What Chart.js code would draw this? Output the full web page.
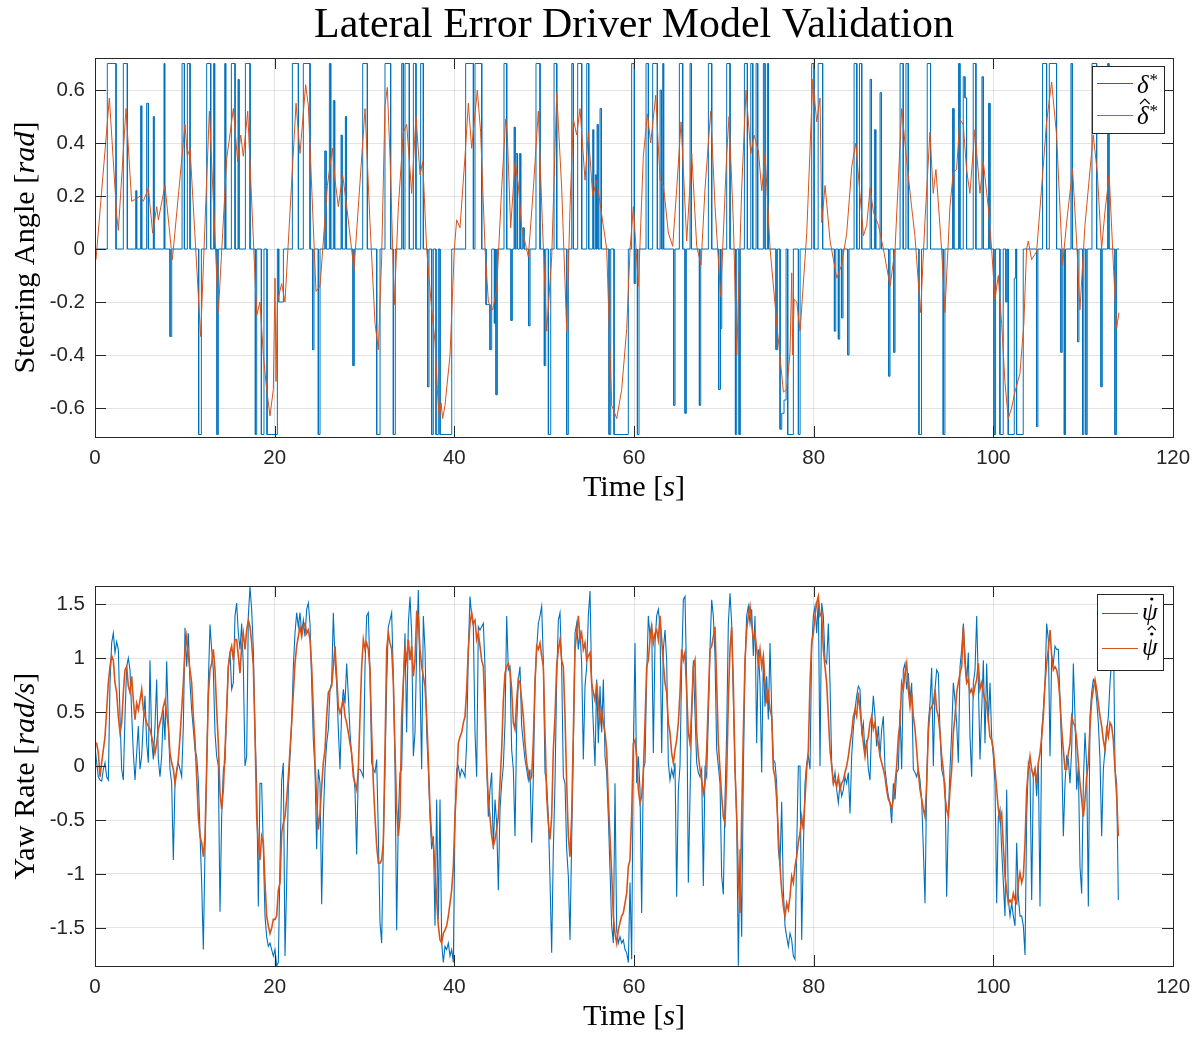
<!DOCTYPE html>
<html><head><meta charset="utf-8">
<script src="https://cdn.jsdelivr.net/npm/chart.js@4/dist/chart.umd.min.js"></script>
<style>
html,body{margin:0;padding:0;background:#fff;width:1202px;height:1037px;overflow:hidden}
canvas{position:absolute;left:0}
</style></head>
<body>
<canvas id="c1" width="1202" height="520" style="top:0px"></canvas>
<canvas id="c2" width="1202" height="517" style="top:520px"></canvas>
<script>
// ---------- tick labels ----------
const timeTicks = [0, 20, 40, 60, 80, 100, 120];
const timeTickLabels = ['0', '20', '40', '60', '80', '100', '120'];
const steerTicks = [-0.6, -0.4, -0.2, 0, 0.2, 0.4, 0.6];
const steerTickLabels = ['-0.6', '-0.4', '-0.2', '0', '0.2', '0.4', '0.6'];
const yawTicks = [-1.5, -1, -0.5, 0, 0.5, 1, 1.5];
const yawTickLabels = ['-1.5', '-1', '-0.5', '0', '0.5', '1', '1.5'];

// ---------- steering reference delta* (saturated pulses: start, end, value) ----------
const steerPulseStart = [1.37,3.15,4.53,5.08,5.75,6.49,7.68,8.35,9.69,10.28,11.54,12.43,13.21,13.58,14.44,15.18,15.92,16.74,17.85,18.52,19.15,20.45,21.97,23.19,24.23,24.86,25.57,26.09,26.53,27.39,27.87,28.72,
29.80,31.36,32.28,33.21,34.14,34.51,35.44,36.25,37.03,37.48,37.96,38.41,41.26,42.30,43.53,43.97,44.46,44.64,45.53,46.31,46.65,46.87,47.24,47.61,48.28,49.09,50.02,50.47,51.10,52.51,53.07,53.73,54.74,55.40,55.70,55.89,56.22,57.22,57.78,
59.74,60.04,60.38,61.34,62.08,62.90,63.20,64.42,65.05,65.68,66.24,67.28,68.28,69.43,69.65,70.32,71.29,71.70,72.29,73.00,73.59,74.40,74.85,75.81,76.26,76.45,76.70,77.11,78.30,79.78,80.50,82.31,82.75,83.12,83.79,84.50,85.10,86.28,86.76,87.39,88.36,88.92,
89.62,90.27,91.72,92.64,94.42,95.46,96.13,96.65,96.84,97.76,98.73,99.47,100.07,100.73,101.40,101.66,102.33,102.59,104.82,105.48,106.23,107.52,107.90,108.64,109.38,109.94,110.30,110.98,111.98,112.72,113.54];
const steerPulseEnd = [2.34,3.60,4.64,5.20,5.94,6.57,7.76,8.54,9.95,10.58,11.84,12.88,13.32,13.73,14.55,15.59,16.03,17.26,18.00,18.81,20.30,20.97,22.64,23.94,24.38,25.05,25.72,26.24,26.68,27.50,27.98,28.87,
30.32,31.73,32.91,33.43,34.32,34.99,35.73,36.55,37.18,37.66,38.22,39.71,42.12,43.05,43.97,44.16,44.60,44.79,45.83,46.46,46.76,47.02,47.39,47.76,48.43,49.54,50.17,50.73,51.40,52.69,53.25,54.18,54.96,55.51,55.81,56.00,56.37,57.41,59.37,
60.04,60.19,60.56,61.60,62.60,63.05,63.30,64.57,65.42,65.83,66.39,67.43,68.65,69.58,69.77,70.69,71.43,71.84,72.62,73.22,73.77,74.59,74.96,75.96,76.45,76.70,76.93,77.74,78.49,80.05,81.00,82.46,82.90,83.27,83.94,84.80,85.35,86.43,86.91,87.54,88.50,89.06,
89.97,90.53,92.01,93.01,94.61,95.61,96.28,96.84,97.02,98.06,98.88,99.62,100.25,101.10,101.55,102.33,102.48,103.33,104.96,105.93,107.04,107.67,108.04,108.79,109.53,110.08,110.45,111.50,112.13,112.87,113.72];
const steerPulseValue = [0.7,0.7,0.22,0.54,0.55,0.5,0.7,-0.33,0.7,0.7,-0.7,0.7,0.7,-0.7,0.7,0.7,0.64,0.7,-0.7,-0.7,-0.7,-0.2,0.7,0.7,-0.38,-0.7,0.37,0.7,0.56,0.43,0.5,-0.44,
0.7,-0.7,0.7,-0.7,0.7,0.7,0.7,0.7,-0.52,-0.7,-0.7,-0.7,0.7,0.7,-0.21,-0.38,-0.28,-0.55,0.7,-0.27,0.46,0.36,0.36,0.08,-0.29,0.7,-0.44,-0.7,0.7,-0.7,0.7,0.7,0.7,0.45,0.28,0.47,0.53,-0.7,-0.7,
0.7,-0.13,-0.7,0.7,0.7,0.6,0.7,-0.59,0.7,-0.62,0.7,-0.59,0.7,-0.53,-0.3,0.7,-0.7,-0.7,0.7,0.7,0.7,0.7,0.7,-0.38,-0.68,-0.62,-0.57,-0.7,-0.7,0.7,0.7,-0.31,-0.34,-0.26,-0.4,0.7,0.7,0.64,0.45,0.59,-0.48,-0.39,
0.7,0.7,-0.7,0.7,-0.7,0.53,0.7,0.65,0.57,0.7,0.65,0.55,-0.7,-0.7,-0.2,-0.7,-0.11,-0.7,-0.67,0.7,0.7,-0.39,-0.7,0.7,-0.35,-0.7,-0.7,0.7,-0.52,0.7,-0.7];
const steerEndTime = 114.0;

// ---------- steering model estimate delta-hat* ----------
const steerModelTime = [0.11,1.60,2.41,2.60,3.45,4.08,4.64,5.01,5.38,5.94,6.42,6.87,7.05,7.79,8.61,10.02,10.28,10.58,11.76,12.73,13.73,14.66,15.40,15.88,16.22,16.51,17.00,18.00,18.37,18.74,19.11,19.48,19.85,20.04,20.15,20.30,20.78,21.15,22.38,22.82,23.45,23.75,24.60,25.05,25.87,26.42,26.72,27.09,27.57,28.02,28.83,
30.06,30.61,31.17,31.54,31.91,32.28,32.54,32.84,33.32,33.77,34.32,34.70,35.25,35.73,36.18,36.48,36.92,37.48,37.85,38.11,38.33,38.52,38.70,38.96,39.52,40.00,40.26,40.63,41.19,41.56,41.93,42.56,42.93,43.42,43.79,44.27,44.72,45.27,45.72,45.90,46.27,46.76,47.13,47.50,48.24,48.80,49.35,49.80,50.28,50.84,51.40,51.95,52.51,52.88,53.25,53.62,53.99,54.55,54.92,55.40,55.85,56.40,56.96,57.52,58.08,58.63,59.19,59.56,
59.93,60.49,61.04,61.49,61.86,62.42,62.90,63.27,63.83,64.31,64.76,65.24,65.87,66.43,66.98,67.46,67.91,68.54,69.02,69.65,70.32,70.58,71.06,71.44,71.99,72.47,73.00,73.36,73.85,74.22,74.59,75.15,75.89,76.63,77.00,77.37,77.56,77.67,77.82,78.12,78.49,79.23,79.90,80.34,80.71,80.90,81.27,81.83,82.20,82.57,83.12,83.68,84.24,84.68,85.17,85.54,85.91,86.28,86.65,87.21,87.76,88.51,89.06,89.80,
90.42,90.90,91.27,91.90,92.38,92.94,93.31,93.61,94.24,94.61,95.17,95.54,95.91,96.28,96.65,97.02,97.39,97.95,98.51,98.88,99.43,99.81,100.18,100.55,100.92,101.29,101.66,102.03,102.40,102.96,103.40,103.70,103.89,104.26,104.82,105.37,105.93,106.49,107.04,107.71,108.16,108.82,109.27,109.64,110.20,111.12,111.57,112.05,112.42,112.90,113.35,113.72,113.98];
const steerModelValue = [-0.04,0.57,0.13,0.07,0.53,0.18,0.19,0.20,0.18,0.23,0.06,0.16,0.11,0.24,-0.04,0.47,0.35,0.38,-0.33,0.52,-0.24,0.34,0.53,0.33,0.43,0.35,0.52,-0.25,-0.20,-0.40,-0.53,-0.63,-0.53,-0.11,-0.50,-0.20,-0.13,-0.20,0.55,0.36,0.62,0.54,-0.16,-0.14,0.24,0.38,0.26,0.16,0.28,0.16,-0.08,
0.53,0.10,-0.28,-0.38,-0.03,0.54,0.61,0.35,-0.21,0.16,0.44,0.47,0.21,0.50,0.28,0.33,0.00,-0.23,-0.35,-0.53,-0.64,-0.58,-0.64,-0.59,-0.40,0.00,0.11,0.08,0.35,0.55,0.38,0.60,0.44,0.00,-0.20,-0.23,-0.15,0.23,0.49,0.43,0.08,0.33,0.24,0.08,-0.03,0.23,0.52,0.10,-0.31,-0.03,0.59,0.23,-0.31,0.16,0.49,0.43,0.53,0.26,0.44,0.20,0.26,0.13,0.00,-0.59,-0.64,-0.53,-0.30,0.00,
0.16,-0.14,0.35,0.51,0.40,0.58,0.26,0.24,0.06,0.01,0.23,0.48,0.03,0.36,0.01,-0.06,0.23,0.52,0.16,-0.18,0.36,0.50,0.10,-0.40,0.23,0.60,0.36,0.43,0.37,0.22,0.36,0.00,-0.28,-0.54,-0.53,-0.39,-0.09,-0.40,-0.19,-0.20,-0.31,0.06,0.64,0.48,0.57,0.10,0.24,0.03,-0.04,-0.11,-0.06,0.06,0.31,0.40,0.20,0.05,0.09,0.23,0.14,0.09,0.00,-0.14,0.00,0.53,
0.31,0.16,0.05,-0.24,0.10,0.44,0.21,0.30,0.00,-0.24,0.16,0.29,0.30,0.49,0.47,0.30,0.21,0.45,0.21,0.33,0.16,0.00,-0.19,-0.10,-0.28,-0.50,-0.64,-0.60,-0.54,-0.47,-0.28,0.00,0.03,-0.04,-0.01,0.23,0.48,0.63,0.43,-0.06,0.10,0.30,0.03,-0.23,0.09,0.43,0.29,0.00,0.14,0.28,-0.05,-0.30,-0.24];

// ---------- yaw rate samples (uniform sample step, four segments) ----------
const yawStep = 0.18553;
const yawSegmentStart = [0, 159, 321, 483];
const yawMeasA = [0.18,0.03,-0.10,-0.13,-0.14,-0.03,0.03,-0.10,-0.13,0.77,1.14,1.23,1.05,1.15,1.08,0.46,-0.03,
-0.13,0.46,0.92,1.0,0.89,0.49,0.12,-0.13,0.12,0.37,-0.03,0.09,0.40,0.65,0.21,0.03,0.98,0.24,0.06,0.37,
0.80,0.06,-0.10,0.09,0.52,0.24,0.97,0.40,-0.03,-0.16,-0.87,-0.16,-0.03,0.03,-0.03,-0.10,0.37,1.28,0.92,1.23,
0.77,0.52,0.34,0.15,0.09,-0.13,-0.62,-1.08,-1.70,-0.77,-0.03,0.77,1.31,1.08,0.89,0.31,0.09,0.0,-1.35,-0.47,
-0.03,0.03,0.52,0.92,1.05,0.71,0.77,1.39,1.51,1.23,1.08,1.32,0.92,0.0,0.09,1.39,1.66,1.45,1.08,0.31,
-0.16,-1.30,-0.16,-0.16,-0.77,-1.39,-1.58,-1.67,-1.64,-1.70,-1.76,-1.70,-1.85,-1.82,-0.90,-0.13,0.03,-1.76,-1.08,-0.22,
0.09,0.40,0.92,1.23,1.42,1.29,1.42,1.23,1.35,1.20,1.45,1.51,1.32,0.77,0.24,-0.03,-0.77,-0.03,-0.16,-1.28,
-0.47,-0.03,0.21,0.34,0.71,0.77,1.42,0.98,0.77,0.34,-0.03,0.52,0.71,0.58,0.95,0.65,0.31,0.09,-0.03,-0.22,
-0.82,-0.03];
const yawMeasB = [-0.03,-0.06,-0.10,0.92,1.39,1.42,0.86,0.03,-0.03,-0.06,0.06,-0.62,-1.45,-1.64,-0.71,-0.03,0.77,1.29,1.35,1.42,
0.83,0.0,-1.52,-0.47,-0.06,-0.03,0.77,1.23,0.31,1.32,1.57,1.23,0.09,0.31,1.08,1.63,0.77,-0.03,1.39,1.08,
0.31,-0.03,-0.47,-0.77,-0.65,-1.48,-0.31,-1.42,-0.31,-1.64,-1.82,-1.67,-1.70,-1.64,-1.76,-1.70,-1.82,-0.47,-0.03,0.0,
-0.10,-0.03,-0.06,-0.10,0.21,1.08,1.57,1.39,1.29,0.31,-0.10,1.29,1.26,1.29,1.32,0.92,0.03,-0.47,-0.22,-0.06,
-0.77,-0.31,-0.53,-1.15,-0.40,-0.16,0.0,0.40,1.39,0.89,0.92,0.15,-0.03,-0.65,0.37,0.80,0.92,0.37,0.21,0.06,
-0.03,-0.13,-0.03,-0.71,-0.10,0.77,1.08,1.32,1.39,1.48,0.98,-0.06,-0.16,-0.47,-1.05,-1.73,-0.77,-0.16,0.80,1.35,
1.42,0.92,-0.10,-0.16,-0.77,-1.02,-1.61,-0.68,0.15,1.23,1.32,1.08,1.26,0.95,0.06,0.74,0.92,1.39,1.62,0.77,
0.37,0.0,0.80,0.21,0.74,0.31,0.80,0.09,-0.06,-0.47,-0.96,-1.48,-1.64,-0.16,-1.52,-1.64,-1.58,-1.64,-1.61,-1.70,
-1.73,-1.82];
const yawMeasC = [-1.08,-1.79,0.15,1.14,-0.16,0.09,-0.22,-1.36,-0.03,0.03,0.83,1.39,1.20,1.32,0.12,1.14,1.39,1.45,1.29,0.12,
1.08,1.26,0.98,0.03,-0.13,-0.03,-0.10,0.03,-1.21,-0.22,0.0,0.92,1.54,1.57,0.77,-1.08,-0.28,0.46,0.98,0.49,
0.03,-0.06,-0.10,-0.03,-1.11,-0.03,-0.10,0.46,1.08,1.54,1.39,1.02,0.15,0.0,-0.16,-1.02,-1.19,-0.31,0.31,1.32,
1.60,1.32,0.61,0.0,-0.47,-1.85,-0.77,-1.58,-0.06,0.92,1.39,1.48,1.32,1.45,1.02,1.39,0.21,1.08,0.77,-0.06,
1.02,0.55,0.83,0.43,1.14,0.52,0.06,0.03,-0.16,-0.77,-0.93,-0.33,-1.15,-1.48,-1.58,-1.67,-1.55,-1.61,-1.76,-1.79,
-0.77,0.0,0.0,-1.61,-0.77,-0.16,0.03,0.09,-0.03,1.08,1.39,1.48,1.23,1.54,0.0,1.51,1.39,0.98,0.95,1.32,
0.77,0.03,-0.16,-0.06,-0.22,-0.34,-0.16,-0.28,-0.22,-0.10,-0.16,-0.06,-0.44,0.09,0.34,0.52,0.65,0.74,0.71,0.31,
0.40,0.12,0.24,-0.03,-0.13,0.40,0.65,0.46,0.18,0.37,0.09,0.34,0.46,-0.03,-0.16,-0.28,-0.34,-0.53,-0.16,-0.31,
-0.06,-0.03];
const yawMeasD = [0.52,-0.03,0.89,0.95,0.71,0.86,0.61,0.77,-0.03,-0.06,-0.10,-0.03,-0.13,-0.31,-0.77,-1.27,-0.16,0.40,0.58,0.91,
0.0,0.71,0.89,0.86,0.31,-0.03,-0.10,-0.16,-1.21,-0.47,-0.03,0.31,0.77,0.61,0.40,0.03,0.92,1.08,1.32,1.02,
0.77,1.05,0.27,-0.10,0.77,0.89,1.39,0.77,0.06,0.52,0.98,0.21,0.95,0.40,0.77,0.27,0.09,-0.16,-1.27,-0.47,
-0.40,-0.77,-1.08,-1.39,-0.22,-1.24,-1.39,-1.27,-1.39,-1.48,-0.71,-1.21,-1.39,-1.39,-1.48,-1.75,-0.47,0.03,-0.03,-1.24,
-0.10,-0.03,-0.28,0.03,-1.30,0.31,0.52,0.77,1.32,1.17,0.09,1.02,0.95,1.11,1.08,1.08,0.61,0.15,-0.65,-0.16,
0.09,0.06,-0.16,0.15,0.95,0.46,-0.22,0.0,-0.93,-1.18,-0.16,0.31,0.0,-1.30,0.46,0.68,0.80,0.77,0.61,0.40,
0.06,-0.65,-0.03,0.15,0.31,0.46,0.77,0.98,1.32,-0.03,-0.16,-1.24];
const yawModelA = [0.21,0.21,0.12,-0.10,0.03,0.15,0.27,0.52,0.77,0.92,1.02,0.98,0.77,0.68,0.46,0.31,0.40,
0.68,0.89,0.92,0.74,0.68,0.83,0.61,0.43,0.58,0.52,0.61,0.71,0.52,0.46,0.40,0.37,0.34,0.27,0.21,0.12,
0.21,0.34,0.40,0.46,0.55,0.61,0.49,0.37,0.12,0.03,-0.03,-0.16,-0.06,0.06,0.27,0.52,0.77,1.08,1.20,1.02,
0.89,0.77,0.46,0.24,-0.10,-0.47,-0.65,-0.71,-0.84,-0.65,0.0,0.65,0.89,0.95,1.08,0.89,0.52,0.21,-0.25,-0.40,
-0.22,0.15,0.52,0.92,1.05,1.11,0.98,1.17,1.17,1.02,0.86,1.11,1.23,1.08,1.26,1.35,1.29,1.14,0.92,0.31,
-0.47,-0.71,-0.87,-0.65,-0.71,-1.08,-1.39,-1.48,-1.55,-1.50,-1.42,-1.42,-1.39,-1.15,-1.08,-0.62,-0.53,-0.47,-0.31,-0.10,
0.15,0.40,0.68,0.95,1.11,1.20,1.29,1.20,1.29,1.32,1.23,1.26,1.17,0.92,0.52,0.03,-0.31,-0.59,-0.44,-0.19,
0.03,0.15,0.46,0.68,0.71,0.74,0.92,1.11,0.83,0.55,0.49,0.55,0.61,0.46,0.40,0.31,0.21,0.12,-0.10,-0.16,
-0.22,-0.03];
const yawModelB = [0.46,0.92,1.17,1.08,1.14,1.08,0.89,0.31,-0.16,-0.47,-0.74,-0.90,-0.90,-0.87,-0.71,0.15,1.08,1.23,1.14,1.08,
0.77,0.15,-0.40,-0.65,-0.47,0.46,0.77,1.08,0.98,1.17,0.98,1.11,0.83,0.98,1.42,1.39,1.08,0.92,0.83,0.74,
0.46,0.06,-0.40,-0.65,-0.71,-0.93,-1.24,-1.48,-1.61,-1.64,-1.55,-1.52,-1.48,-1.39,-1.27,-1.15,-0.93,-0.47,-0.16,0.21,
0.27,0.31,0.40,0.46,0.71,1.08,1.32,1.42,1.32,1.35,1.17,1.23,1.11,0.98,0.92,0.52,0.03,-0.31,-0.47,-0.65,
-0.74,-0.68,-0.59,-0.47,-0.16,0.15,0.61,0.86,0.92,0.95,0.89,0.71,0.40,0.34,0.61,0.80,0.77,0.61,0.46,0.21,
0.03,-0.06,-0.13,-0.10,0.24,0.77,1.11,1.08,1.14,1.02,0.92,0.31,-0.28,-0.53,-0.68,-0.47,0.15,0.46,0.92,1.08,
1.17,0.98,0.92,0.46,-0.16,-0.65,-0.84,-0.47,0.31,1.08,1.23,1.39,1.17,1.23,1.08,1.14,0.98,1.02,1.05,0.77,
0.68,0.61,0.77,0.58,0.40,0.52,0.40,0.31,0.15,-0.31,-0.65,-0.99,-1.39,-1.55,-1.64,-1.52,-1.45,-1.39,-1.36,-1.27,
-1.18,-0.93];
const yawModelC = [-0.87,-0.44,0.21,0.24,0.09,-0.22,-0.34,-0.28,-0.06,0.40,0.92,0.98,1.17,1.29,1.14,1.23,1.26,1.17,1.39,1.17,
0.95,0.77,0.68,0.40,0.31,0.12,0.03,0.15,0.24,0.40,0.68,1.08,0.98,1.05,0.68,0.31,0.21,0.52,0.92,0.98,
0.31,0.09,-0.03,-0.13,-0.25,-0.16,0.15,0.61,1.08,1.11,1.20,1.29,0.77,0.21,-0.03,-0.28,-0.47,-0.53,-0.10,0.61,
1.08,1.29,0.77,-0.03,-0.47,-1.02,-1.36,-0.47,0.31,0.98,1.26,1.39,1.48,1.32,1.17,1.23,1.08,0.95,1.08,0.92,
1.02,0.77,0.61,0.68,0.52,0.46,-0.03,-0.10,-0.31,-0.62,-0.93,-1.15,-1.30,-1.39,-1.27,-1.33,-1.21,-1.02,-1.08,-0.93,
-0.84,-0.71,-0.62,-0.47,-0.59,-0.31,-0.03,0.15,0.77,1.14,1.23,1.39,1.51,1.57,1.39,1.42,1.08,0.92,0.77,0.46,
0.15,0.0,-0.16,-0.13,-0.19,-0.10,-0.22,-0.16,-0.13,-0.06,0.0,0.09,0.21,0.31,0.46,0.52,0.46,0.68,0.52,0.37,
0.21,0.09,0.21,0.27,0.40,0.46,0.34,0.40,0.27,0.21,0.09,0.03,-0.03,-0.10,-0.22,-0.31,-0.34,-0.40,-0.31,-0.16,
0.0,0.27];
const yawModelD = [0.40,0.77,0.71,0.86,0.95,0.71,0.55,0.68,0.46,0.34,0.15,-0.06,-0.22,-0.31,-0.40,-0.47,-0.16,0.31,0.52,0.55,
0.58,0.71,0.52,0.46,0.31,0.09,-0.03,-0.28,-0.40,-0.47,-0.22,-0.03,0.31,0.46,0.68,0.77,0.86,0.92,1.29,0.95,
0.77,0.80,0.68,0.71,0.65,0.74,0.80,0.95,0.71,0.77,0.68,0.61,0.58,0.43,0.27,0.24,0.15,-0.03,-0.22,-0.40,
-0.50,-0.44,-0.74,-1.02,-1.15,-1.27,-1.24,-1.27,-1.18,-1.24,-1.27,-1.08,-0.99,-1.08,-1.02,-0.71,-0.22,-0.03,0.09,-0.03,
-0.10,-0.03,-0.16,0.03,0.12,0.27,0.46,0.77,0.95,1.08,1.26,1.02,0.89,0.92,0.89,0.80,0.61,0.34,0.15,-0.03,
-0.03,0.12,0.21,0.46,0.40,0.37,0.24,0.03,-0.16,-0.31,-0.47,-0.31,-0.10,0.03,0.37,0.61,0.71,0.80,0.71,0.58,
0.46,0.37,0.24,0.15,0.34,0.27,0.40,0.37,0.24,-0.03,-0.28,-0.65];

// ---------- build series ----------
const BLUE = '#0072BD', ORANGE = '#D95319', AXIS = '#262626';

function buildPulseSeries() {
  const pts = [{x: 0, y: 0}];
  const n = steerPulseStart.length;
  for (let i = 0; i < n; i++) {
    const s = steerPulseStart[i], e = steerPulseEnd[i], v = steerPulseValue[i];
    const prevEnd = i > 0 ? steerPulseEnd[i - 1] : -1;
    if (s - prevEnd > 0.001) pts.push({x: s, y: 0});
    pts.push({x: s, y: v}, {x: e, y: v});
    const nextStart = i < n - 1 ? steerPulseStart[i + 1] : Infinity;
    if (nextStart - e > 0.001) pts.push({x: e, y: 0});
  }
  pts.push({x: steerEndTime, y: 0});
  return pts;
}
function zipSeries(tArr, vArr) {
  return tArr.map((t, i) => ({x: t, y: vArr[i]}));
}
function buildYaw(segments) {
  const pts = [];
  segments.forEach((seg, s) => {
    seg.forEach((v, i) => pts.push({x: (yawSegmentStart[s] + i) * yawStep, y: v}));
  });
  return pts;
}

// ---------- drawing helpers ----------
const SERIF = '"Liberation Serif", "DejaVu Serif", serif';
const SANS = '"Liberation Sans", Arial, sans-serif';
let labelFontSize = 25;
(function computeLabelSize() {
  const c = document.createElement('canvas').getContext('2d');
  c.font = '24px ' + SERIF;
  let w = c.measureText('Steering Angle [').width + c.measureText(']').width;
  c.font = 'italic 24px ' + SERIF;
  w += c.measureText('rad').width;
  labelFontSize = 24 * 252 / w;
})();

function drawMixed(ctx, parts, cx, cy, size, rotate) {
  ctx.save();
  ctx.translate(cx, cy);
  if (rotate) ctx.rotate(-Math.PI / 2);
  let total = 0;
  parts.forEach(p => { ctx.font = (p.it ? 'italic ' : '') + size + 'px ' + SERIF; p.w = ctx.measureText(p.t).width; total += p.w; });
  let x = -total / 2;
  ctx.fillStyle = '#000';
  ctx.textBaseline = 'middle';
  ctx.textAlign = 'left';
  parts.forEach(p => { ctx.font = (p.it ? 'italic ' : '') + size + 'px ' + SERIF; ctx.fillText(p.t, x, 0); x += p.w; });
  ctx.restore();
}

function drawDelta(ctx, x, base, hat) {
  ctx.save();
  ctx.fillStyle = '#000';
  ctx.textBaseline = 'alphabetic';
  ctx.font = 'italic 25px ' + SERIF;
  ctx.fillText('δ', x, base);
  const w = ctx.measureText('δ').width;
  ctx.font = '17px ' + SERIF;
  ctx.fillText('*', x + w + 1, base - 8);
  if (hat) {
    ctx.strokeStyle = '#000'; ctx.lineWidth = 1.1;
    ctx.beginPath();
    ctx.moveTo(x + 3, base - 20); ctx.lineTo(x + w / 2 + 2, base - 25); ctx.lineTo(x + w + 1, base - 20);
    ctx.stroke();
  }
  ctx.restore();
}
function drawPsi(ctx, x, base, hat) {
  ctx.save();
  ctx.fillStyle = '#000';
  ctx.textBaseline = 'alphabetic';
  ctx.font = 'italic 25px ' + SERIF;
  ctx.fillText('ψ', x, base);
  const w = ctx.measureText('ψ').width;
  const cx = x + w / 2 + 2;
  ctx.beginPath(); ctx.arc(cx, base - 21, 1.6, 0, Math.PI * 2); ctx.fill();
  if (hat) {
    ctx.strokeStyle = '#000'; ctx.lineWidth = 1.1;
    ctx.beginPath();
    ctx.moveTo(cx - 4, base - 25); ctx.lineTo(cx, base - 29); ctx.lineTo(cx + 4, base - 25);
    ctx.stroke();
  }
  ctx.restore();
}

function framePlugin(cfg) {
  return {
    id: 'frame_' + cfg.name,
    afterDraw(chart) {
      const ctx = chart.ctx, a = chart.chartArea, xs = chart.scales.x, ys = chart.scales.y;
      ctx.save();
      ctx.strokeStyle = AXIS; ctx.lineWidth = 1;
      ctx.strokeRect(Math.round(a.left) + 0.5, Math.round(a.top) + 0.5, Math.round(a.right - a.left), Math.round(a.bottom - a.top));
      ctx.beginPath();
      timeTicks.forEach(v => {
        const px = Math.round(xs.getPixelForValue(v)) + 0.5;
        ctx.moveTo(px, a.bottom); ctx.lineTo(px, a.bottom - 11);
        ctx.moveTo(px, a.top); ctx.lineTo(px, a.top + 11);
      });
      cfg.yTicks.forEach(v => {
        const py = Math.round(ys.getPixelForValue(v)) + 0.5;
        ctx.moveTo(a.left, py); ctx.lineTo(a.left + 11, py);
        ctx.moveTo(a.right, py); ctx.lineTo(a.right - 11, py);
      });
      ctx.stroke();
      ctx.restore();
      // axis titles
      drawMixed(ctx, [{t: 'Time ['}, {t: 's', it: true}, {t: ']'}], (a.left + a.right) / 2, a.bottom + 51, labelFontSize, false);
      drawMixed(ctx, cfg.yLabel, 26, (a.top + a.bottom) / 2, labelFontSize, true);
      if (cfg.title) {
        ctx.save();
        ctx.font = '34px ' + SERIF;
        const w = ctx.measureText(cfg.title).width;
        const size = 34 * 640 / w;
        ctx.font = size + 'px ' + SERIF;
        ctx.fillStyle = '#000'; ctx.textAlign = 'center'; ctx.textBaseline = 'alphabetic';
        ctx.fillText(cfg.title, (a.left + a.right) / 2, 37);
        ctx.restore();
      }
      // legend
      const L = cfg.legend;
      ctx.save();
      ctx.fillStyle = '#fff';
      ctx.fillRect(L.x, L.y, L.w, L.h);
      ctx.strokeStyle = AXIS; ctx.lineWidth = 1;
      ctx.strokeRect(L.x + 0.5, L.y + 0.5, L.w, L.h);
      L.rows.forEach(r => {
        ctx.strokeStyle = r.color; ctx.lineWidth = 1;
        ctx.beginPath(); ctx.moveTo(L.lineX0, r.y + 0.5); ctx.lineTo(L.lineX1, r.y + 0.5); ctx.stroke();
        r.draw(ctx, L.textX, r.base);
      });
      ctx.restore();
    }
  };
}

function makeChart(id, datasets, yMin, yMax, yTicksArr, yLabelsArr, areaTop, areaBottom, canvasH, cfg) {
  return new Chart(document.getElementById(id), {
    type: 'line',
    data: {datasets},
    options: {
      responsive: false, animation: false, devicePixelRatio: 1, events: [],
      layout: {padding: {top: areaTop, left: 0, right: 29, bottom: 0}},
      plugins: {legend: {display: false}, tooltip: {enabled: false}, title: {display: false}},
      elements: {point: {radius: 0}, line: {tension: 0}},
      scales: {
        x: {
          type: 'linear', min: 0, max: 120,
          afterBuildTicks: s => { s.ticks = timeTicks.map(v => ({value: v})); },
          afterFit: s => { s.height = canvasH - areaBottom; },
          ticks: {callback: (v, i) => timeTickLabels[i], font: {family: SANS, size: 20.5}, color: AXIS, padding: 9, maxRotation: 0, autoSkip: false},
          grid: {color: 'rgba(38,38,38,0.13)', drawTicks: false, lineWidth: 1},
          border: {display: false}
        },
        y: {
          type: 'linear', min: yMin, max: yMax,
          afterBuildTicks: s => { s.ticks = yTicksArr.map(v => ({value: v})); },
          afterFit: s => { s.width = 95; },
          ticks: {callback: (v, i) => yLabelsArr[i], font: {family: SANS, size: 20.5}, color: AXIS, padding: 10, autoSkip: false},
          grid: {color: 'rgba(38,38,38,0.13)', drawTicks: false, lineWidth: 1},
          border: {display: false}
        }
      }
    },
    plugins: [framePlugin(cfg)]
  });
}

makeChart('c1', [
  {label: 'δ*', data: buildPulseSeries(), borderColor: BLUE, borderWidth: 1, order: 2},
  {label: 'δ̂*', data: zipSeries(steerModelTime, steerModelValue), borderColor: ORANGE, borderWidth: 1, order: 1}
], -0.7094, 0.7208, steerTicks, steerTickLabels, 58, 437, 520, {
  name: 'steer', yTicks: steerTicks,
  title: 'Lateral Error Driver Model Validation',
  yLabel: [{t: 'Steering Angle ['}, {t: 'rad', it: true}, {t: ']'}],
  legend: {x: 1092, y: 66, w: 72, h: 67, lineX0: 1097, lineX1: 1133, textX: 1137,
    rows: [
      {color: BLUE, y: 83, base: 93, draw: (c, x, b) => drawDelta(c, x, b, false)},
      {color: ORANGE, y: 115, base: 124, draw: (c, x, b) => drawDelta(c, x, b, true)}
    ]}
});

makeChart('c2', [
  {label: 'psi dot', data: buildYaw([yawMeasA, yawMeasB, yawMeasC, yawMeasD]), borderColor: BLUE, borderWidth: 1.1, order: 2},
  {label: 'psi dot hat', data: buildYaw([yawModelA, yawModelB, yawModelC, yawModelD]), borderColor: ORANGE, borderWidth: 1.6, order: 1}
], -1.852, 1.667, yawTicks, yawTickLabels, 66, 446, 517, {
  name: 'yaw', yTicks: yawTicks,
  yLabel: [{t: 'Yaw Rate ['}, {t: 'rad/s', it: true}, {t: ']'}],
  legend: {x: 1097, y: 74, w: 66, h: 76, lineX0: 1102, lineX1: 1138, textX: 1142,
    rows: [
      {color: BLUE, y: 93, base: 100, draw: (c, x, b) => drawPsi(c, x, b, false)},
      {color: ORANGE, y: 128, base: 135, draw: (c, x, b) => drawPsi(c, x, b, true)}
    ]}
});
</script>
</body></html>
